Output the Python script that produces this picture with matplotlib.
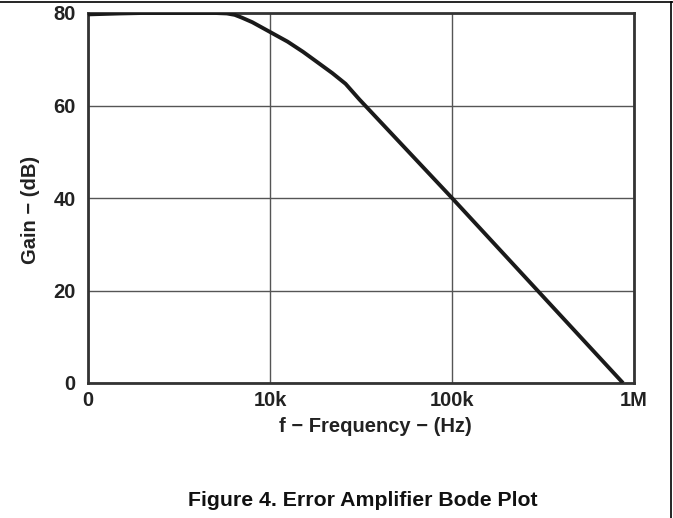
import matplotlib
matplotlib.use("Agg")
import matplotlib.pyplot as plt
from matplotlib.lines import Line2D

# Curve (Hz, dB)
freq = [1000, 1500, 2000, 5000, 5800, 6400, 7000, 8000, 10000, 12500, 15200, 18000, 22000, 26000, 31000, 100000, 870000]
gain = [79.7, 79.9, 80, 80, 79.9, 79.6, 79.0, 78.0, 75.9, 73.8, 71.6, 69.5, 67.0, 64.7, 61.3, 40, 0]

x_ticks = [1e3, 1e4, 1e5, 1e6]
x_labels = ["0", "10k", "100k", "1M"]
y_ticks = [0, 20, 40, 60, 80]

plt.rcParams["font.family"] = ["Liberation Sans", "DejaVu Sans"]
plt.rcParams["font.weight"] = "bold"

fig = plt.figure(figsize=(6.73, 5.18), dpi=100)
ax = fig.add_axes([88 / 673, 1 - 383 / 518, (634 - 88) / 673, (383 - 13) / 518])

ax.plot(freq, gain, color="#1a1a1a", linewidth=2.8, solid_capstyle="butt", zorder=3)

ax.set_xscale("log")
ax.set_xlim(1e3, 1e6)
ax.set_ylim(0, 80)
ax.set_xticks(x_ticks)
ax.set_xticklabels(x_labels)
ax.set_yticks(y_ticks)
ax.minorticks_off()
ax.tick_params(length=0, labelsize=14.5, colors="#222222")
ax.tick_params(axis="x", pad=6)
ax.tick_params(axis="y", pad=9)

ax.grid(True, color="#555555", linewidth=1.0)
for s in ax.spines.values():
    s.set_linewidth(2.0)
    s.set_color("#333333")

fig.text(375 / 673, 1 - 426 / 518, "f \u2212 Frequency \u2212 (Hz)", ha="center", va="center",
         fontsize=14.5, fontweight="bold", color="#222222")
fig.text(31 / 673, 1 - 210 / 518, "Gain \u2212 (dB)", ha="center", va="center", rotation=90,
         fontsize=14.5, fontweight="bold", color="#222222")
fig.text(363 / 673, 1 - 500 / 518, "Figure 4. Error Amplifier Bode Plot", ha="center", va="center",
         fontsize=15.3, fontweight="bold", color="#111111")

# page frame lines
fig.add_artist(Line2D([0, 1], [1 - 2 / 518, 1 - 2 / 518], transform=fig.transFigure, color="black", linewidth=1.2))
fig.add_artist(Line2D([670.5 / 673, 670.5 / 673], [0, 1 - 2 / 518], transform=fig.transFigure, color="black", linewidth=1.2))

fig.savefig("out.png", dpi=100)
